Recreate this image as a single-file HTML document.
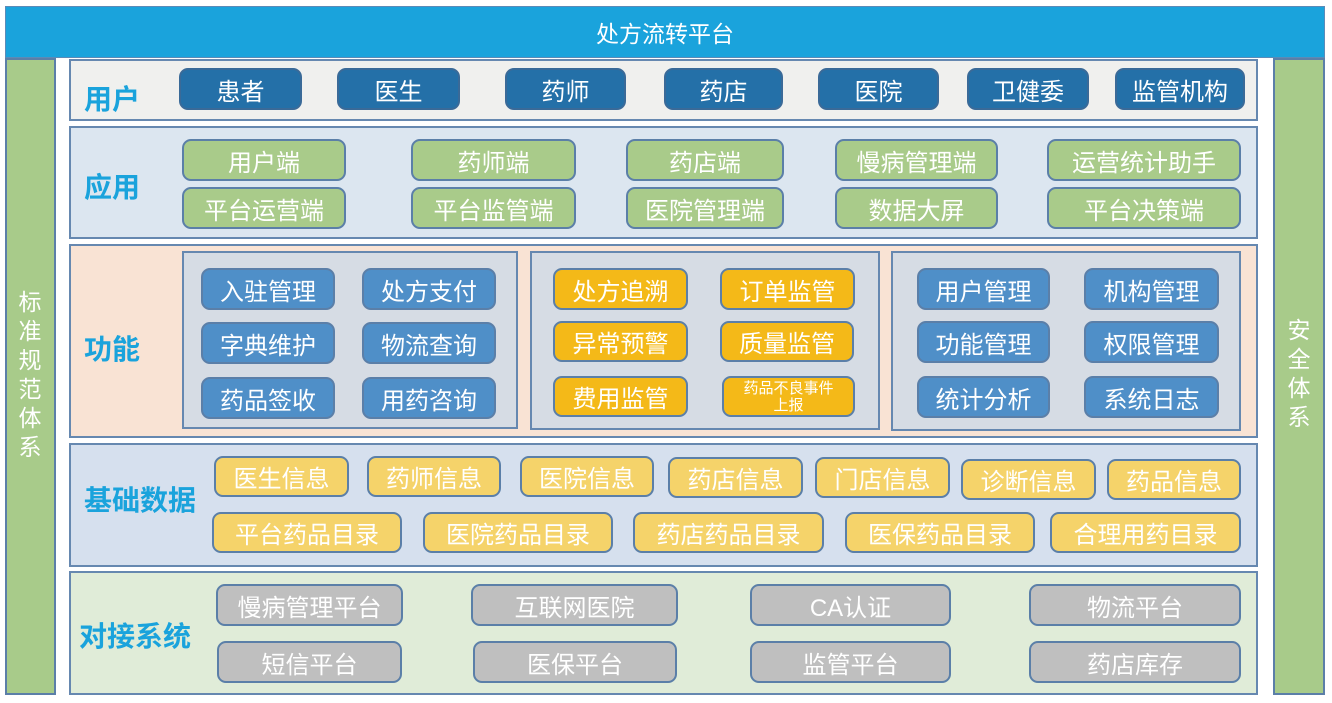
<!DOCTYPE html>
<html><head><meta charset="utf-8"><style>
body{margin:0;width:1332px;height:703px;background:#fff;position:relative;overflow:hidden;font-family:"Liberation Sans","Noto Sans CJK SC",sans-serif}
div{position:absolute;box-sizing:border-box}
.b{border:2px solid #5b7fa8;border-radius:9px;color:#fff;display:flex;align-items:center;justify-content:center;font-size:24px;white-space:nowrap}
.u{background:#2470a8;border-color:#3a6a98}
.g{background:#a9cb8a}
.bl{background:#4f8fc8}
.y{background:#f4b918}
.ly{background:#f5d36a}
.gr{background:#bfbfbf}
.sec{border:2px solid #6688b0}
.lab{color:#1aa3dc;font-weight:bold;font-size:28px;white-space:nowrap}
.sub{background:#d6dce4;border:2px solid #6688b0}
.vt{color:#fff;font-size:23px;line-height:29px;text-align:center;width:50px}
</style></head><body>
<div style="left:5px;top:6px;width:1320px;height:52px;background:#1aa3dc;border:1px solid #5b8bb8;color:#fff;font-size:23px;display:flex;align-items:center;justify-content:center">处方流转平台</div>
<div style="left:5px;top:58px;width:51px;height:637px;background:#a8cb8a;border:2px solid #5b7fa8"></div>
<div class="vt" style="left:5px;top:288px">标<br>准<br>规<br>范<br>体<br>系</div>
<div style="left:1273px;top:58px;width:52px;height:637px;background:#a8cb8a;border:2px solid #5b7fa8"></div>
<div class="vt" style="left:1274px;top:316px">安<br>全<br>体<br>系</div>

<div class="sec" style="left:69px;top:59px;width:1189px;height:62px;background:#f0f0ee"></div>
<div class="lab" style="left:84px;top:78px">用户</div>
<div class="b u" style="left:179px;top:68px;width:123px;height:42px">患者</div>
<div class="b u" style="left:337px;top:68px;width:123px;height:42px">医生</div>
<div class="b u" style="left:505px;top:68px;width:121px;height:42px">药师</div>
<div class="b u" style="left:664px;top:68px;width:119px;height:42px">药店</div>
<div class="b u" style="left:818px;top:68px;width:121px;height:42px">医院</div>
<div class="b u" style="left:967px;top:68px;width:122px;height:42px">卫健委</div>
<div class="b u" style="left:1115px;top:68px;width:130px;height:42px">监管机构</div>

<div class="sec" style="left:69px;top:126px;width:1189px;height:113px;background:#dce6f0"></div>
<div class="lab" style="left:84px;top:166px">应用</div>
<div class="b g" style="left:182px;top:139px;width:164px;height:42px">用户端</div>
<div class="b g" style="left:411px;top:139px;width:165px;height:42px">药师端</div>
<div class="b g" style="left:626px;top:139px;width:158px;height:42px">药店端</div>
<div class="b g" style="left:835px;top:139px;width:163px;height:42px">慢病管理端</div>
<div class="b g" style="left:1047px;top:139px;width:194px;height:42px">运营统计助手</div>
<div class="b g" style="left:182px;top:187px;width:164px;height:42px">平台运营端</div>
<div class="b g" style="left:411px;top:187px;width:165px;height:42px">平台监管端</div>
<div class="b g" style="left:626px;top:187px;width:158px;height:42px">医院管理端</div>
<div class="b g" style="left:835px;top:187px;width:163px;height:42px">数据大屏</div>
<div class="b g" style="left:1047px;top:187px;width:194px;height:42px">平台决策端</div>

<div class="sec" style="left:69px;top:244px;width:1189px;height:194px;background:#f9e3d4"></div>
<div class="lab" style="left:84px;top:328px">功能</div>
<div class="sub" style="left:182px;top:251px;width:336px;height:178px"></div>
<div class="sub" style="left:530px;top:251px;width:350px;height:179px"></div>
<div class="sub" style="left:891px;top:251px;width:350px;height:180px"></div>
<div class="b bl" style="left:201px;top:268px;width:134px;height:42px">入驻管理</div>
<div class="b bl" style="left:362px;top:268px;width:134px;height:42px">处方支付</div>
<div class="b bl" style="left:201px;top:322px;width:134px;height:42px">字典维护</div>
<div class="b bl" style="left:362px;top:322px;width:134px;height:42px">物流查询</div>
<div class="b bl" style="left:201px;top:377px;width:134px;height:42px">药品签收</div>
<div class="b bl" style="left:362px;top:377px;width:134px;height:42px">用药咨询</div>
<div class="b y" style="left:553px;top:268px;width:135px;height:42px">处方追溯</div>
<div class="b y" style="left:720px;top:268px;width:135px;height:42px">订单监管</div>
<div class="b y" style="left:553px;top:321px;width:135px;height:41px">异常预警</div>
<div class="b y" style="left:720px;top:321px;width:134px;height:41px">质量监管</div>
<div class="b y" style="left:553px;top:376px;width:135px;height:41px">费用监管</div>
<div class="b y" style="left:722px;top:376px;width:133px;height:41px;font-size:15px;line-height:17px;text-align:center">药品不良事件<br>上报</div>
<div class="b bl" style="left:917px;top:268px;width:133px;height:42px">用户管理</div>
<div class="b bl" style="left:1084px;top:268px;width:135px;height:42px">机构管理</div>
<div class="b bl" style="left:917px;top:321px;width:133px;height:42px">功能管理</div>
<div class="b bl" style="left:1084px;top:321px;width:135px;height:42px">权限管理</div>
<div class="b bl" style="left:917px;top:376px;width:133px;height:42px">统计分析</div>
<div class="b bl" style="left:1084px;top:376px;width:135px;height:42px">系统日志</div>

<div class="sec" style="left:69px;top:443px;width:1189px;height:124px;background:#d6e0ee"></div>
<div class="lab" style="left:84px;top:479px">基础数据</div>
<div class="b ly" style="left:214px;top:456px;width:135px;height:41px">医生信息</div>
<div class="b ly" style="left:367px;top:456px;width:134px;height:41px">药师信息</div>
<div class="b ly" style="left:520px;top:456px;width:134px;height:41px">医院信息</div>
<div class="b ly" style="left:668px;top:457px;width:135px;height:41px">药店信息</div>
<div class="b ly" style="left:815px;top:457px;width:135px;height:41px">门店信息</div>
<div class="b ly" style="left:961px;top:459px;width:135px;height:41px">诊断信息</div>
<div class="b ly" style="left:1107px;top:459px;width:134px;height:41px">药品信息</div>
<div class="b ly" style="left:212px;top:512px;width:190px;height:41px">平台药品目录</div>
<div class="b ly" style="left:423px;top:512px;width:190px;height:41px">医院药品目录</div>
<div class="b ly" style="left:633px;top:512px;width:191px;height:41px">药店药品目录</div>
<div class="b ly" style="left:845px;top:512px;width:190px;height:41px">医保药品目录</div>
<div class="b ly" style="left:1050px;top:512px;width:191px;height:41px">合理用药目录</div>

<div class="sec" style="left:69px;top:571px;width:1189px;height:124px;background:#e0ecd8"></div>
<div class="lab" style="left:79px;top:615px">对接系统</div>
<div class="b gr" style="left:216px;top:584px;width:187px;height:42px">慢病管理平台</div>
<div class="b gr" style="left:471px;top:584px;width:207px;height:42px">互联网医院</div>
<div class="b gr" style="left:750px;top:584px;width:201px;height:42px">CA认证</div>
<div class="b gr" style="left:1029px;top:584px;width:212px;height:42px">物流平台</div>
<div class="b gr" style="left:217px;top:641px;width:185px;height:42px">短信平台</div>
<div class="b gr" style="left:473px;top:641px;width:204px;height:42px">医保平台</div>
<div class="b gr" style="left:750px;top:641px;width:201px;height:42px">监管平台</div>
<div class="b gr" style="left:1029px;top:641px;width:212px;height:42px">药店库存</div>
</body></html>
